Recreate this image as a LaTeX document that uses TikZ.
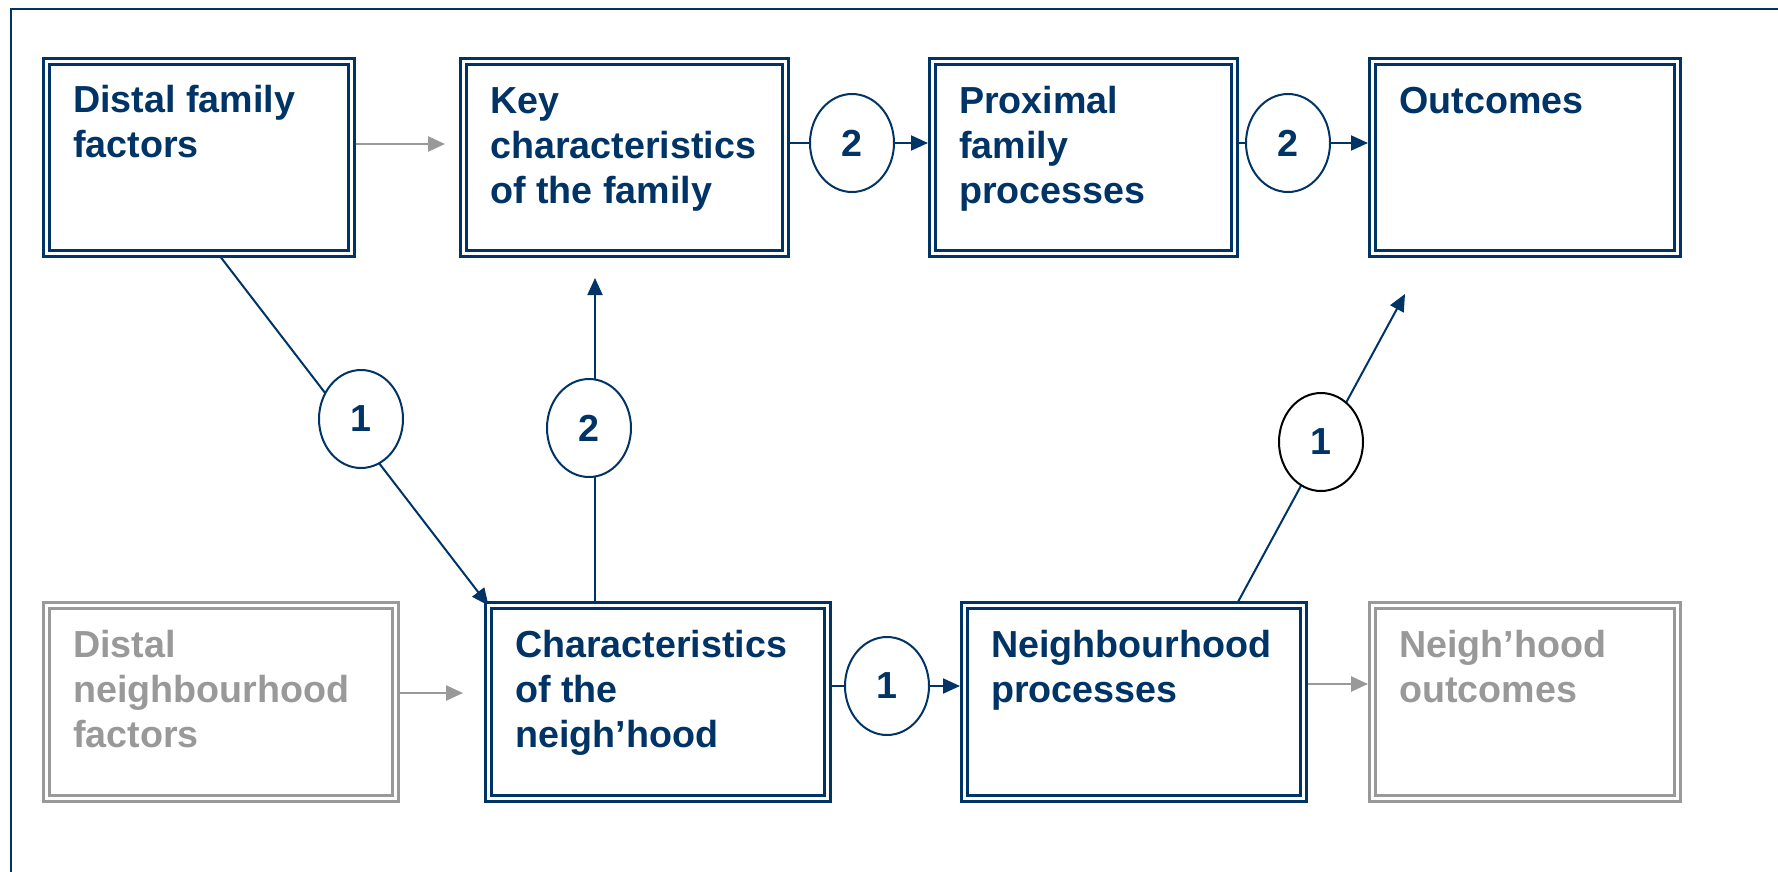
\documentclass[tikz,border=0pt]{standalone}
\usepackage{fontspec}
\setmainfont{Liberation Sans}
\usetikzlibrary{arrows.meta,calc,shapes.geometric}
\definecolor{navy}{RGB}{0,51,102}
\definecolor{lgray}{RGB}{153,153,153}
\pgfdeclarelayer{bg}
\pgfsetlayers{bg,main}
\begin{document}
\begin{tikzpicture}[x=1bp,y=-1bp,
  box/.style={rectangle, draw=navy, double=white, double distance=3bp, line width=3bp, inner sep=0pt, outer sep=0pt},
  gbox/.style={box, draw=lgray},
  txt/.style={anchor=base west, inner sep=0pt, text=navy, font=\fontsize{37.8}{45.2}\selectfont\bfseries},
  gtxt/.style={txt, text=lgray},
  circ/.style={ellipse, draw=navy, fill=white, line width=2bp, minimum width=84bp, minimum height=98bp, inner sep=0pt, text=navy, font=\fontsize{37.8}{45.2}\selectfont\bfseries},
  bline/.style={draw=navy, line width=2bp},
  barrow/.style={bline, -{Triangle[length=17bp,width=15bp]}},
  garrow/.style={draw=lgray, line width=2.5bp, -{Triangle[length=17bp,width=15bp]}},
]
\useasboundingbox (0,0) rectangle (1778,872);
\draw[navy, line width=2bp] (11,872) -- (11,9) -- (1778,9);

% boxes (outer extents given in comments)
\node[box, minimum width=305bp, minimum height=192bp] (df) at (199,157.5) {};
\node[box, minimum width=322bp, minimum height=192bp] (key) at (624.5,157.5) {};
\node[box, minimum width=302bp, minimum height=192bp] (prox) at (1083.5,157.5) {};
\node[box, minimum width=305bp, minimum height=192bp] (out) at (1525,157.5) {};
\node[gbox, minimum width=349bp, minimum height=193bp] (dn) at (221,702) {};
\node[box, minimum width=339bp, minimum height=193bp] (ch) at (658,702) {};
\node[box, minimum width=339bp, minimum height=193bp] (ne) at (1134,702) {};
\node[gbox, minimum width=305bp, minimum height=193bp] (no) at (1525,702) {};

% texts
\node[txt] (tdf) at (73,112) {\begin{tabular}[t]{@{}l@{}}Distal family\\factors\end{tabular}};
\node[txt] (tkey) at (490,113) {\begin{tabular}[t]{@{}l@{}}Key\\characteristics\\of the family\end{tabular}};
\node[txt] (tprox) at (959,113) {\begin{tabular}[t]{@{}l@{}}Proximal\\family\\processes\end{tabular}};
\node[txt] (tout) at (1399,113) {\begin{tabular}[t]{@{}l@{}}Outcomes\end{tabular}};
\node[gtxt] (tdn) at (73,657) {\begin{tabular}[t]{@{}l@{}}Distal\\neighbourhood\\factors\end{tabular}};
\node[txt] (tch) at (515,657) {\begin{tabular}[t]{@{}l@{}}Characteristics\\of the\\neigh’hood\end{tabular}};
\node[txt] (tne) at (991,657) {\begin{tabular}[t]{@{}l@{}}Neighbourhood\\processes\end{tabular}};
\node[gtxt] (tno) at (1399,657) {\begin{tabular}[t]{@{}l@{}}Neigh’hood\\outcomes\end{tabular}};

% circles
\node[circ] (c2a) at (852,143) {2};
\node[circ] (c2b) at (1288,143) {2};
\node[circ] (c1l) at (361,419) {1};
\node[circ] (c2v) at (589,428) {2};
\node[circ] (c1m) at (887,686) {1};
\node[circ, draw=black] (c1r) at (1321,442) {1};

\coordinate (vt) at (595,278);
\coordinate (rt) at (1405,294);

\begin{pgfonlayer}{bg}
  % grey arrows
  \draw[garrow] ($(df.east)+(0,-13.5)$) -- ($(key.west)+(-18.5,-13.5)$);
  \draw[garrow] ($(dn.east)+(0,-9)$) -- ($(ch.west)+(-25.5,-9)$);
  \draw[garrow] ($(ne.east)+(0,-18)$) -- ($(no.west)+(-4.5,-18)$);
  % top row
  \draw[barrow, shorten >=4.5bp] (key.east |- c2a) -- (prox.west |- c2a);
  \draw[barrow, shorten >=4.5bp] (prox.east |- c2b) -- (out.west |- c2b);
  % bottom row
  \draw[barrow, shorten >=4.5bp] (ch.east |- c1m) -- (ne.west |- c1m);
  % vertical
  \draw[barrow] (vt |- ch.north) -- (vt);
  % diagonals
  \draw[barrow] ($(df.south west)!0.562!(df.south east)$) -- (ch.north west);
  \draw[barrow] ($(ne.north west)!0.801!(ne.north east)$) -- (rt);
\end{pgfonlayer}
\end{tikzpicture}
\end{document}
